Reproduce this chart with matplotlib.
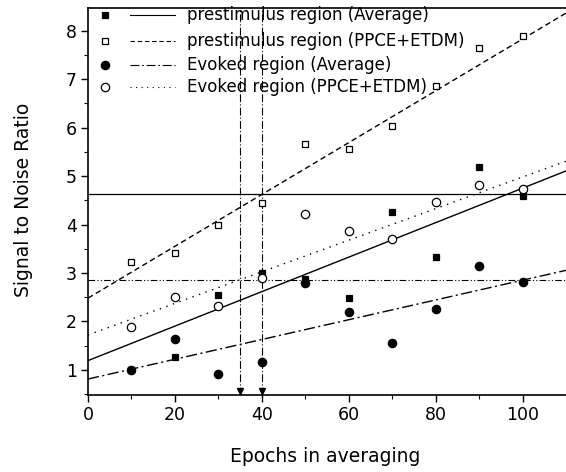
import numpy as np
import matplotlib
matplotlib.use("Agg")
import matplotlib.pyplot as plt
from matplotlib.ticker import MultipleLocator

plt.rcParams['font.family'] = ['DejaVu Sans']

# ---- data ----
epochs = [10, 20, 30, 40, 50, 60, 70, 80, 90, 100]
pre_avg_x = [10, 20, 30, 40, 50, 60, 70, 80, 90, 100]
pre_avg = [1.0, 1.27, 2.54, 3.0, 2.87, 2.49, 4.26, 3.32, 5.18, 4.58]
pre_ppce = [3.23, 3.42, 3.98, 4.44, 5.67, 5.55, 6.04, 6.85, 7.65, 7.90]
evk_avg = [1.0, 1.64, 0.92, 1.17, 2.79, 2.20, 1.55, 2.26, 3.15, 2.81]
evk_ppce = [1.89, 2.51, 2.31, 2.89, 4.22, 3.86, 3.71, 4.46, 4.81, 4.73]

# linear fits (intercept, slope)
fit_intercepts = [1.19, 2.48, 0.81, 1.72]
fit_slopes = [0.0356, 0.0535, 0.0204, 0.0326]

hlines = [4.62, 2.85]
vlines = [35, 40]

labels = ["prestimulus region (Average)",
          "prestimulus region (PPCE+ETDM)",
          "Evoked region (Average)",
          "Evoked region (PPCE+ETDM)"]

# ---- styles ----
markers = ['s', 's', 'o', 'o']
mfaces = ['black', 'white', 'black', 'white']
lstyles = ['-', (0, (4, 2.5)), (0, (8, 2.5, 1.5, 2.5)), (0, (1, 4))]
msizes = [5, 5, 6, 6]

fig = plt.figure(figsize=(5.66, 4.72), dpi=100)
ax = fig.add_axes([88/566, 1 - 395/472, 478/566, (395 - 8)/472])

xfit = np.array([0, 110])
series = [(pre_avg_x, pre_avg), (epochs, pre_ppce), (epochs, evk_avg), (epochs, evk_ppce)]

# reference lines
ax.axhline(hlines[0], color='black', lw=0.9, ls='-', zorder=1)
ax.axhline(hlines[1], color='black', lw=0.8, ls=(0, (6, 2, 1, 2, 1, 2)), zorder=1)
for v in vlines:
    ax.axvline(v, color='black', lw=0.8, ls=(0, (7, 2, 1, 2)), zorder=1)
    ax.plot([v], [0.56], marker='v', color='black', ms=4, clip_on=False, zorder=3)

for i, (xs, ys) in enumerate(series):
    ax.plot(xfit, fit_intercepts[i] + fit_slopes[i] * xfit, color='black',
            lw=1.0, ls=lstyles[i], zorder=2)
    ax.plot(xs, ys, ls='none', marker=markers[i], ms=msizes[i],
            mfc=mfaces[i], mec='black', mew=0.9, zorder=4)

# manual legend
rows_y = [0.981, 0.915, 0.854, 0.795]
for i in range(4):
    ax.plot([0.0356], [rows_y[i]], transform=ax.transAxes, marker=markers[i],
            ms=msizes[i], mfc=mfaces[i], mec='black', mew=0.9, ls='none', zorder=5)
    ax.plot([0.088, 0.182], [rows_y[i], rows_y[i]], transform=ax.transAxes,
            color='black', lw=0.8, ls=lstyles[i], zorder=5)
    ax.text(0.2075, rows_y[i], labels[i], transform=ax.transAxes,
            fontsize=12, va='center', ha='left', zorder=5)

ax.set_xlim(0, 110)
ax.set_ylim(0.48, 8.47)
ax.xaxis.set_major_locator(MultipleLocator(20))
ax.xaxis.set_minor_locator(MultipleLocator(10))
ax.yaxis.set_major_locator(MultipleLocator(1))
ax.yaxis.set_minor_locator(MultipleLocator(0.5))
ax.tick_params(which='major', direction='out', length=5, width=1, labelsize=12.5, pad=3)
ax.tick_params(which='minor', direction='out', length=3, width=0.8)
for s in ['left', 'bottom', 'top']:
    ax.spines[s].set_linewidth(1.2)
ax.spines['right'].set_visible(False)

fig.text(325/566, 1 - 456/472, "Epochs in averaging", fontsize=13.5, ha='center', va='center')
fig.text(24/566, 1 - 200/472, "Signal to Noise Ratio", fontsize=13.5, ha='center',
         va='center', rotation=90)

fig.savefig("out.png", dpi=100)
